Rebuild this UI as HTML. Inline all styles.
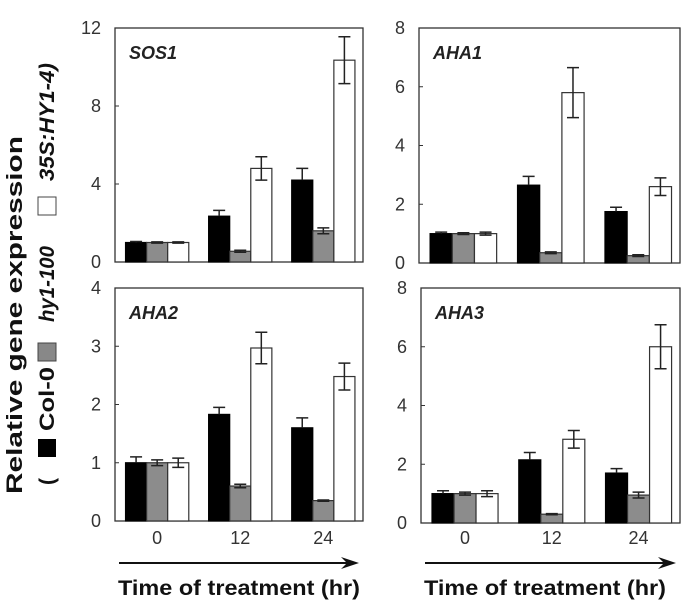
<!DOCTYPE html>
<html><head><meta charset="utf-8"><style>
body{margin:0;background:#fff;width:683px;height:603px;overflow:hidden}
svg{font-family:"Liberation Sans",Arial,sans-serif}
</style></head><body>
<svg id="c" width="683" height="603">
<g>
<text transform="translate(22,315) rotate(-90)" text-anchor="middle" font-size="22" font-weight="bold" fill="#111" textLength="358" lengthAdjust="spacingAndGlyphs">Relative gene expression</text>
</g>
<g transform="translate(54,485) rotate(-90)" font-size="21" font-weight="bold" fill="#111">
<text x="0" y="0">(</text>
<rect x="28" y="-16" width="18" height="18" fill="#000"/>
<text x="54" y="0" textLength="64" lengthAdjust="spacingAndGlyphs">Col-0</text>
<rect x="124" y="-16" width="18" height="18" fill="#888" stroke="#444"/>
<text x="163" y="0" font-style="italic" textLength="76" lengthAdjust="spacingAndGlyphs">hy1-100</text>
<rect x="270" y="-16" width="18" height="18" fill="#fff" stroke="#444"/>
<text x="304" y="0" font-style="italic" textLength="118" lengthAdjust="spacingAndGlyphs">35S:HY1-4)</text>
</g>
</svg>
<script>
const genes=["SOS1","AHA1","AHA2","AHA3"];
const yMax=[12,8,4,8];
const yTicks=[[0,4,8,12],[0,2,4,6,8],[0,1,2,3,4],[0,2,4,6,8]];
const timeLabels=["0","12","24"];
const col0Vals=[[1.0,2.35,4.2],[1.0,2.65,1.75],[1.0,1.83,1.6],[1.0,2.15,1.7]];
const col0Err=[[0.05,0.3,0.6],[0.05,0.3,0.15],[0.1,0.12,0.17],[0.1,0.25,0.15]];
const hy1Vals=[[1.0,0.55,1.6],[1.0,0.35,0.25],[1.0,0.6,0.35],[1.0,0.3,0.95]];
const hy1Err=[[0.03,0.05,0.15],[0.03,0.03,0.03],[0.05,0.03,0.01],[0.05,0.02,0.1]];
const oxVals=[[1.0,4.8,10.35],[1.0,5.8,2.6],[1.0,2.97,2.48],[1.0,2.85,6.0]];
const oxErr=[[0.03,0.6,1.2],[0.05,0.85,0.3],[0.08,0.27,0.23],[0.1,0.3,0.75]];
const panels=[{l:115,t:28,r:363,b:262},{l:419,t:28,r:680,b:263},{l:115,t:288,r:363,b:521},{l:421,t:288,r:680,b:523}];
const NS="http://www.w3.org/2000/svg";
const svg=document.getElementById("c");
function mk(tag,attrs,parent){const e=document.createElementNS(NS,tag);for(const k in attrs)e.setAttribute(k,attrs[k]);(parent||svg).appendChild(e);return e;}
const series=[{v:col0Vals,e:col0Err,fill:"#000",stroke:"#000",n:"col0"},{v:hy1Vals,e:hy1Err,fill:"#8c8c8c",stroke:"#333",n:"hy1"},{v:oxVals,e:oxErr,fill:"#fff",stroke:"#333",n:"35s"}];
panels.forEach((p,pi)=>{
  const g=mk("g",{});
  
  
  const w=p.r-p.l;
  const y=v=>p.b-(v/yMax[pi])*(p.b-p.t);
  const gx=i=>p.l+w*0.17+i*w*0.335;
  const bw=w*0.085;
  const box=mk("rect",{x:p.l,y:p.t,width:w,height:p.b-p.t,fill:"none",stroke:"#333","stroke-width":1.3},g);
  
  
  yTicks[pi].forEach(t=>{
    mk("line",{x1:p.l,x2:p.l+4,y1:y(t),y2:y(t),stroke:"#333"},g);
    const tx=mk("text",{x:p.l-14,y:y(t)+6,"text-anchor":"end","font-size":18,fill:"#333"},g);
    tx.textContent=t;
    
    
  });
  const title=mk("text",{x:p.l+14,y:p.t+31,"font-size":18,"font-weight":"bold","font-style":"italic",fill:"#222"},g);
  title.textContent=genes[pi];
  
  
  for(let i=0;i<3;i++){
    series.forEach((s,si)=>{
      const v=s.v[pi][i],er=s.e[pi][i];
      const x=gx(i)+(si-1.5)*bw;
      const b=mk("rect",{x:x,y:y(v),width:bw,height:p.b-y(v),fill:s.fill,stroke:s.stroke,"stroke-width":1.2},g);
      
      
      const cx=x+bw/2;
      const lo=si===0?v:v-er;
      const eb=mk("path",{d:`M${cx},${y(v+er)}V${y(lo)}M${cx-6},${y(v+er)}H${cx+6}`+(si===0?"":`M${cx-6},${y(v-er)}H${cx+6}`),stroke:"#222","stroke-width":1.5,fill:"none"},g);
      
      
    });
    if(pi>=2){
      const tl=mk("text",{x:gx(i),y:544,"text-anchor":"middle","font-size":18,fill:"#333"},g);
      tl.textContent=timeLabels[i];
      
      
    }
  }
  if(pi>=2){
    const a=mk("path",{d:`M${p.l+4},563H${p.r-12}`,stroke:"#111","stroke-width":2},g);
    
    
    const h=mk("path",{d:`M${p.r-22},557L${p.r-4},563L${p.r-22},569L${p.r-16},563Z`,fill:"#111"},g);
    
    
    const xt=mk("text",{x:p.l+3,y:595,"font-size":21,"font-weight":"bold",fill:"#111",textLength:242,lengthAdjust:"spacingAndGlyphs"},g);
    xt.textContent="Time of treatment (hr)";
    
    
  }
});
</script>
</body></html>
